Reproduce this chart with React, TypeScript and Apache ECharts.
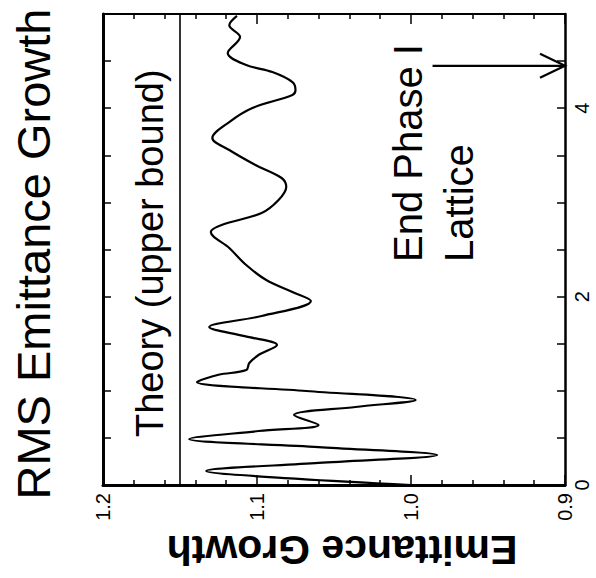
import { useEffect, useRef } from "react";
import * as echarts from "echarts";

// Position along the lattice (m) and the RMS emittance growth factor at that position
const positions = [
  0.0, 0.064, 0.149, 0.234, 0.318, 0.403, 0.488, 0.573, 0.637, 0.743, 0.828, 0.902,
  0.998, 1.093, 1.17, 1.22, 1.295, 1.38, 1.486, 1.58, 1.677, 1.794, 1.953, 2.049,
  2.176, 2.335, 2.516, 2.686, 2.76, 2.887, 3.025, 3.163, 3.259, 3.397, 3.556, 3.684,
  3.853, 4.002, 4.14, 4.193, 4.278, 4.384, 4.459, 4.586, 4.756, 4.88, 4.98,
];
const emittanceGrowth = [
  1.0, 1.073, 1.133, 1.06, 0.983, 1.06, 1.144, 1.099, 1.06, 1.076, 1.036, 0.997,
  1.068, 1.139, 1.125, 1.107, 1.105, 1.099, 1.087, 1.108, 1.131, 1.097, 1.065, 1.077,
  1.094, 1.107, 1.118, 1.13, 1.123, 1.097, 1.086, 1.081, 1.084, 1.101, 1.118, 1.129,
  1.118, 1.103, 1.077, 1.075, 1.077, 1.09, 1.107, 1.119, 1.111, 1.118, 1.113,
];

// Theoretical upper bound and the end of the Phase I lattice
const theoryBound = 1.15;
const endPhasePosition = 4.45;
const arrowTailGrowth = 0.986;

// Axis ranges and labelled ticks
const growthRange = [0.9, 1.2];
const positionRange = [0, 5];
const positionTickLabels = [0, 2, 4];

const FONT = '"Liberation Sans", Arial, Helvetica, sans-serif';

export default function App() {
  const ref = useRef<HTMLDivElement>(null);

  useEffect(() => {
    if (!ref.current) return;
    const chart = echarts.init(ref.current, null, { renderer: "svg" });

    const growthAxis = (position: "bottom" | "top", lineWidth: number, labels: boolean) => ({
      type: "value",
      position,
      min: growthRange[0],
      max: growthRange[1],
      interval: 0.1,
      inverse: true,
      axisLine: { show: true, onZero: false, lineStyle: { color: "#000", width: lineWidth } },
      axisTick: { show: true, inside: true, length: 10, lineStyle: { color: "#000", width: 1.5 } },
      minorTick: { show: true, splitNumber: 5, length: 5, lineStyle: { color: "#000", width: 1.5 } },
      splitLine: { show: false },
      minorSplitLine: { show: false },
      axisLabel: {
        show: labels,
        rotate: 90,
        margin: 8,
        fontSize: 20,
        color: "#000",
        fontFamily: FONT,
        formatter: (v: number) => v.toFixed(1),
      },
    });

    const positionAxis = (position: "right" | "left", lineWidth: number, labels: boolean) => ({
      type: "value",
      position,
      min: positionRange[0],
      max: positionRange[1],
      interval: 0.5,
      axisLine: { show: true, onZero: false, lineStyle: { color: "#000", width: lineWidth } },
      axisTick: { show: true, inside: true, length: 8, lineStyle: { color: "#000", width: 1.5 } },
      splitLine: { show: false },
      axisLabel: {
        show: labels,
        rotate: 90,
        margin: 7,
        fontSize: 20,
        color: "#000",
        fontFamily: FONT,
        formatter: (v: number) => {
          const r = Math.round(v * 10) / 10;
          return positionTickLabels.includes(r) ? String(r) : "";
        },
      },
    });

    chart.setOption({
      animation: false,
      backgroundColor: "#fff",
      grid: { left: 103, right: 31, top: 14, bottom: 93 },
      xAxis: [growthAxis("bottom", 3, true), growthAxis("top", 2, false)],
      yAxis: [positionAxis("right", 2.5, true), positionAxis("left", 3, false)],
      series: [
        {
          type: "line",
          xAxisIndex: 0,
          yAxisIndex: 0,
          data: emittanceGrowth.map((g, i) => [g, positions[i]]),
          showSymbol: false,
          smooth: 0.35,
          lineStyle: { color: "#000", width: 2.2 },
          markLine: {
            silent: true,
            symbol: ["none", "none"],
            label: { show: false },
            lineStyle: { color: "#000", type: "solid", width: 1.6 },
            data: [{ xAxis: theoryBound }],
          },
        },
      ],
    });

    const tail = chart.convertToPixel({ xAxisIndex: 0, yAxisIndex: 0 }, [arrowTailGrowth, endPhasePosition]);
    const head = chart.convertToPixel({ xAxisIndex: 0, yAxisIndex: 0 }, [growthRange[0], endPhasePosition]);

    const textStyle = (size: number, weight: string = "normal") => ({
      fill: "#000",
      fontSize: size,
      fontWeight: weight,
      fontFamily: FONT,
    });

    chart.setOption({
      graphic: [
        {
          type: "text",
          x: 33,
          y: 254,
          rotation: Math.PI / 2,
          style: { ...textStyle(47), text: "RMS Emittance Growth", align: "center", verticalAlign: "middle" },
        },
        {
          type: "text",
          x: 342,
          y: 550,
          rotation: Math.PI,
          style: { ...textStyle(41, "bold"), text: "Emittance Growth", align: "center", verticalAlign: "middle" },
        },
        {
          type: "text",
          x: 150,
          y: 437,
          rotation: Math.PI / 2,
          style: { ...textStyle(38), text: "Theory (upper bound)", align: "left", verticalAlign: "middle" },
        },
        {
          type: "text",
          x: 408,
          y: 262,
          rotation: Math.PI / 2,
          style: { ...textStyle(40), text: "End Phase I", align: "left", verticalAlign: "middle" },
        },
        {
          type: "text",
          x: 459,
          y: 262,
          rotation: Math.PI / 2,
          style: { ...textStyle(40), text: "Lattice", align: "left", verticalAlign: "middle" },
        },
        {
          type: "line",
          shape: { x1: tail[0], y1: tail[1], x2: head[0], y2: head[1] },
          style: { stroke: "#000", lineWidth: 2.2 },
        },
        {
          type: "polyline",
          shape: {
            points: [
              [head[0] - 25, head[1] - 12],
              [head[0], head[1]],
              [head[0] - 25, head[1] + 12],
            ],
          },
          style: { stroke: "#000", lineWidth: 2.2, fill: "none" },
        },
      ],
    });

    return () => chart.dispose();
  }, []);

  return (
    <div
      ref={ref}
      style={{ position: "absolute", left: 0, top: 0, width: 596, height: 578 }}
    />
  );
}
